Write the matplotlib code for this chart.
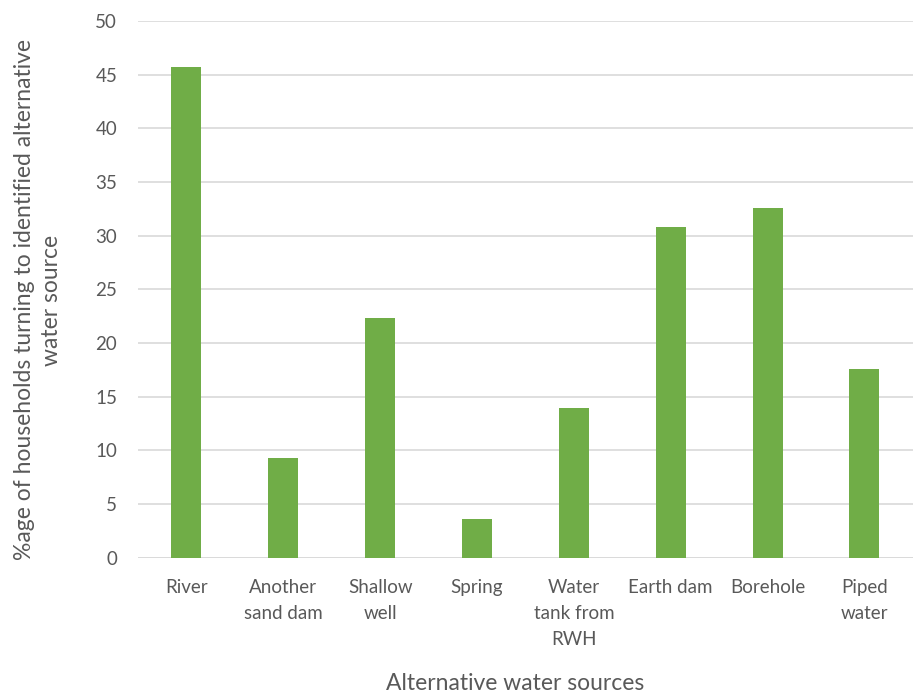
import matplotlib
matplotlib.use("Agg")
import matplotlib.pyplot as plt

categories = ["River", "Another\nsand dam", "Shallow\nwell", "Spring",
              "Water\ntank from\nRWH", "Earth dam", "Borehole", "Piped\nwater"]
values = [45.7, 9.3, 22.3, 3.6, 13.9, 30.8, 32.6, 17.6]
yticks = [0, 5, 10, 15, 20, 25, 30, 35, 40, 45, 50]

plt.rcParams['font.family'] = ['Lato', 'DejaVu Sans']
text_color = '#595959'

W, H = 917, 695
fig = plt.figure(figsize=(W / 100, H / 100), dpi=100)
ax = fig.add_axes([0.1505, 0.1976, 0.845, 0.7724])

x = range(len(categories))
ax.bar(x, values, width=0.31, color='#70ad47', zorder=3)

ax.set_xlim(-0.5, len(categories) - 0.5)
ax.set_ylim(0, 50)
ax.set_yticks(yticks)
ax.set_yticklabels([str(v) for v in yticks], fontsize=13.5, color=text_color)
ax.set_xticks(list(x))
ax.set_xticklabels(categories, fontsize=13.5, color=text_color, linespacing=1.65, va='top')
ax.tick_params(axis='both', length=0)
ax.tick_params(axis='y', pad=15)
ax.tick_params(axis='x', pad=15)

ax.grid(axis='y', color='#d9d9d9', linewidth=1.2, zorder=0)
for s in ax.spines.values():
    s.set_visible(False)
ax.axhline(0, color='#d9d9d9', linewidth=1.2, zorder=2)

fig.text(38 / W, 1 - 300 / H,
         "%age of households turning to identified alternative\nwater source",
         rotation=90, ha='center', va='center', fontsize=16.5, color=text_color,
         linespacing=1.3, multialignment='center')
fig.text(515 / W, 1 - 683 / H, "Alternative water sources",
         ha='center', va='center', fontsize=16.5, color=text_color)

fig.savefig("out.png", dpi=100)
